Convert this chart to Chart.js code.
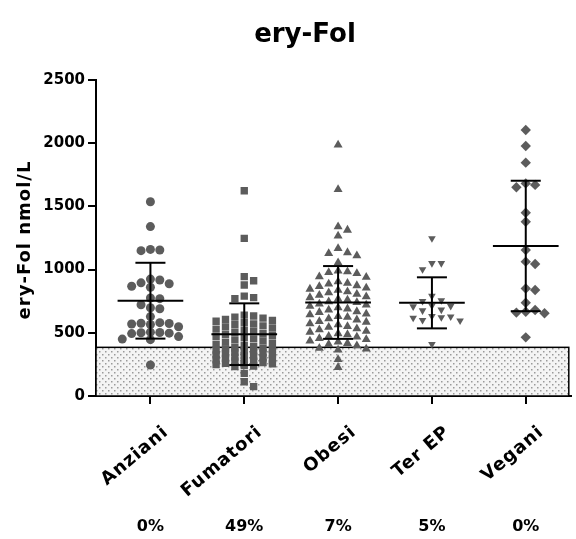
<!DOCTYPE html>
<html>
<head>
<meta charset="utf-8">
<script src="https://cdn.jsdelivr.net/npm/chart.js@4"></script>
<style>
  body { margin: 0; background: #fff; }
  .wrap { width: 576px; height: 539px; }
</style>
</head>
<body>
<div class="wrap"><canvas id="myChart"></canvas></div>
<script>
const gruppi = ["Anziani", "Fumatori", "Obesi", "Ter EP", "Vegani"];
const percentuali = ["0%", "49%", "7%", "5%", "0%"];
const yTicks = [0, 500, 1000, 1500, 2000, 2500];
const soglia = 385;

// valori (nmol/L)
const anziani = [1537, 1340, 1160, 1155, 1150, 925, 918, 895, 888, 868, 860, 775, 770, 722, 698, 690,
  628, 580, 576, 574, 570, 566, 548, 505, 502, 500, 497, 494, 470, 450, 446, 245];
const fumatori = [1624, 1247, 944, 912, 878, 790, 778, 770,
  640, 633, 624, 616, 605, 598, 591, 580, 571, 564, 555, 547, 538, 529, 521, 512, 503, 494, 487, 478,
  470, 461, 452, 444, 436, 426, 418, 408, 399, 390,
  384, 379, 373, 368, 364, 357, 352, 346, 341, 336, 331, 325, 320, 314, 308, 303, 298, 293, 287, 281,
  276, 270, 265, 259, 254, 249, 243, 237, 232, 179, 113, 74];
const obesi = [1986, 1635, 1340, 1313, 1266, 1168, 1135, 1128, 1110, 1055, 990, 984, 978, 970, 944, 940,
  905, 893, 886, 874, 867, 855, 846, 838, 825, 818, 806, 798, 786, 779, 767, 760, 747, 740, 728, 720,
  711, 698, 690, 681, 668, 662, 650, 643, 630, 624, 611, 603, 590, 585, 572, 565, 551, 545, 533, 525,
  513, 506, 494, 486, 474, 468, 455, 447, 436, 428, 417, 409, 398, 378, 372, 365, 290, 227];
const terEP = [1247, 1050, 1050, 1002, 791, 756, 750, 715, 712, 708, 682, 676, 632, 628, 622, 618, 600, 596, 410];
const vegani = [2104, 1978, 1846, 1682, 1670, 1651, 1450, 1379, 1155, 1063, 1044, 850, 839, 738, 680, 667, 660, 655, 464];

const medie = [754, 489, 740, 737, 1187];
const devStd = [300, 244, 288, 202, 516];

const serie = [anziani, fumatori, obesi, terEP, vegani];

function sciame(valori, centro) {
  const passo = 0.1, distMin = 60;
  const ordine = [0, 1, -1, 2, -2, 3, -3];
  const piazzati = [];
  return [...valori].sort((a, b) => b - a).map(v => {
    let scelta = 0, meglio = -1;
    for (const s of ordine) {
      const vicini = piazzati.filter(p => p.s === s).map(p => Math.abs(p.v - v));
      const d = vicini.length ? Math.min(...vicini) : Infinity;
      if (d >= distMin) { scelta = s; break; }
      if (d > meglio) { meglio = d; scelta = s; }
    }
    piazzati.push({ s: scelta, v: v });
    return { x: centro + scelta * passo, y: v };
  });
}

const font = '"DejaVu Sans", sans-serif';

function retino(ctx) {
  const c = document.createElement('canvas');
  c.width = 6; c.height = 6;
  const p = c.getContext('2d');
  p.fillStyle = '#f4f4f4';
  p.fillRect(0, 0, 6, 6);
  p.fillStyle = '#9a9a9a';
  p.fillRect(0, 0, 1.5, 1.5);
  p.fillRect(3, 3, 1.5, 1.5);
  return ctx.createPattern(c, 'repeat');
}

const sfondo = {
  id: 'sfondo',
  beforeDatasetsDraw(chart) {
    const { ctx, chartArea, scales } = chart;
    const top = scales.y.getPixelForValue(soglia);
    ctx.save();
    ctx.fillStyle = retino(ctx);
    ctx.fillRect(chartArea.left, top, chartArea.right - 2 - chartArea.left, chartArea.bottom - top);
    ctx.strokeStyle = '#000';
    ctx.lineWidth = 1.5;
    ctx.strokeRect(chartArea.left, top, chartArea.right - 2 - chartArea.left, chartArea.bottom - top);
    ctx.restore();
  }
};

const barre = {
  id: 'barre',
  afterDatasetsDraw(chart) {
    const { ctx, scales } = chart;
    const x = scales.x, y = scales.y;
    ctx.save();
    ctx.strokeStyle = '#000';
    ctx.lineWidth = 2;
    medie.forEach((m, i) => {
      const sd = devStd[i];
      const seg = (a, b, v) => {
        ctx.beginPath();
        ctx.moveTo(x.getPixelForValue(a), y.getPixelForValue(v));
        ctx.lineTo(x.getPixelForValue(b), y.getPixelForValue(v));
        ctx.stroke();
      };
      seg(i - 0.35, i + 0.35, m);
      seg(i - 0.16, i + 0.16, m + sd);
      seg(i - 0.16, i + 0.16, m - sd);
      ctx.beginPath();
      ctx.moveTo(x.getPixelForValue(i), y.getPixelForValue(m + sd));
      ctx.lineTo(x.getPixelForValue(i), y.getPixelForValue(m - sd));
      ctx.stroke();
    });
    ctx.restore();
  }
};

const testi = {
  id: 'testi',
  afterDraw(chart) {
    const { ctx, scales } = chart;
    ctx.save();
    ctx.fillStyle = '#000';
    ctx.font = 'bold 26px ' + font;
    ctx.textAlign = 'center';
    ctx.textBaseline = 'middle';
    ctx.fillText('ery-Fol', 305, 35);

    ctx.save();
    ctx.translate(25, 240);
    ctx.rotate(-Math.PI / 2);
    ctx.font = 'bold 18px ' + font;
    ctx.letterSpacing = '1px';
    ctx.fillText('ery-Fol nmol/L', 0, 0);
    ctx.restore();

    gruppi.forEach((g, i) => {
      const px = scales.x.getPixelForValue(i);
      ctx.save();
      ctx.translate(px + 10, 423);
      ctx.rotate(-40 * Math.PI / 180);
      ctx.font = 'bold 18px ' + font;
      ctx.letterSpacing = '1px';
      ctx.textAlign = 'right';
      ctx.textBaseline = 'top';
      ctx.fillText(g, 0, 0);
      ctx.restore();

      ctx.font = 'bold 16px ' + font;
      ctx.textAlign = 'center';
      ctx.textBaseline = 'middle';
      ctx.fillText(percentuali[i], px, 527);
    });
    ctx.restore();
  }
};

const ctx = document.getElementById('myChart');
new Chart(ctx, {
  type: 'scatter',
  data: {
    datasets: serie.map((vals, i) => ({
      label: gruppi[i],
      data: sciame(vals, i),
      pointStyle: ['circle', 'rect', 'triangle', 'triangle', 'rectRot'][i],
      rotation: [0, 0, 0, 180, 0][i],
      pointRadius: [4.5, 5.2, 5.2, 4.4, 5.2][i],
      pointHoverRadius: [4.5, 5.2, 5.2, 4.4, 5.2][i],
      backgroundColor: '#5c5c5c',
      borderColor: '#5c5c5c',
      borderWidth: 0
    }))
  },
  options: {
    responsive: true,
    maintainAspectRatio: false,
    animation: false,
    events: [],
    layout: { padding: { top: 80, left: 0, right: 0, bottom: 0 } },
    plugins: { legend: { display: false }, tooltip: { enabled: false }, title: { display: false } },
    scales: {
      x: {
        type: 'linear',
        min: -0.58,
        max: 4.48,
        z: 1,
        afterBuildTicks: s => { s.ticks = gruppi.map((g, i) => ({ value: i })); },
        afterFit: s => { s.height = 143; },
        ticks: { display: false },
        grid: { drawOnChartArea: false, drawTicks: true, tickLength: 8, color: '#000', lineWidth: 2 },
        border: { display: true, color: '#000', width: 2 }
      },
      y: {
        min: 0,
        max: 2500,
        z: 1,
        afterBuildTicks: s => { s.ticks = yTicks.map(v => ({ value: v })); },
        afterFit: s => { s.width = 96; },
        ticks: { color: '#000', padding: 3, font: { family: font, weight: 'bold', size: 15 }, callback: v => String(v) },
        grid: { drawOnChartArea: false, drawTicks: true, tickLength: 8, color: '#000', lineWidth: 2 },
        border: { display: true, color: '#000', width: 2 }
      }
    }
  },
  plugins: [sfondo, barre, testi]
});
</script>
</body>
</html>
